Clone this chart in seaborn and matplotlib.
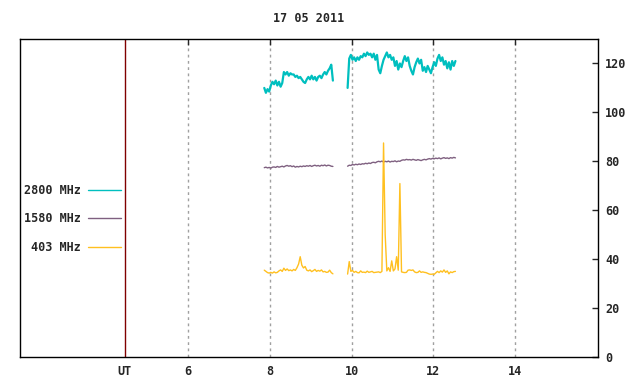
import numpy as np
import pandas as pd
import matplotlib
matplotlib.use("Agg")
import matplotlib.pyplot as plt
from matplotlib.lines import Line2D
import seaborn as sns

# ---------------------------
# Data (flux per band, sampled every 0.04 h UT, two observing runs)
# ---------------------------
title = "17 05 2011"
bands = ["2800 MHz", "1580 MHz", "403 MHz"]
colors = {"2800 MHz": "#00BFBF", "1580 MHz": "#7F6080", "403 MHz": "#FFC020"}

step = 0.04
seg_starts = [7.86, 9.90]

f2800_a = [110, 108, 109.5, 108.5, 111, 112.5, 111.5, 113, 111, 112.5, 110.5, 112,
           116.5, 115.5, 116.5, 115, 116, 115.5, 115.5, 114.5, 115, 114, 114.5, 113.5,
           112.5, 112, 113.5, 114.5, 113.5, 115, 113.5, 114.5, 113, 114.5, 115, 114,
           115.5, 116.5, 115.5, 117, 118, 119.5, 113]
f2800_b = [110, 122, 123.5, 121.5, 122.5, 121, 122.5, 121.5, 123, 122.5, 124, 123,
           124.5, 123.5, 124, 122.5, 124, 121.5, 123.5, 117.5, 116, 119, 121.5, 123,
           124.5, 122.5, 123.5, 121.5, 122.5, 119, 121, 117.5, 120, 118.5, 121, 123,
           121, 122.5, 119, 117, 115.5, 118.5, 120.5, 122, 120, 121.5, 117, 118.5,
           116.5, 119, 117.5, 116, 118.5, 120.5, 119, 122, 123.5, 121, 122.5, 119.5,
           121, 118, 120.5, 117.5, 121, 119, 121]

f1580_a = [77.4, 77.6, 77.3, 77.5, 77.2, 77.6, 77.7, 77.5, 77.9, 77.6, 77.8, 78.0,
           77.7, 78.1, 78.3, 78.0, 78.2, 77.8, 78.1, 77.6, 77.9, 77.7, 78.0, 77.8,
           78.1, 77.9, 78.2, 78.0, 78.3, 77.9, 78.2, 78.4, 78.1, 78.3, 78.0, 78.4,
           78.2, 78.5, 78.1, 78.4, 78.3, 78.0, 77.9]
f1580_b = [78.0, 78.4, 78.3, 78.7, 78.5, 78.8, 78.6, 78.9, 78.7, 79.0, 78.9, 79.2,
           79.0, 79.3, 79.1, 79.5, 79.6, 79.4, 79.8, 80.0, 79.8, 80.1, 79.7, 80.0,
           79.8, 80.1, 79.7, 80.0, 79.9, 80.2, 79.8, 80.1, 80.0, 80.4, 80.6, 80.5,
           80.8, 80.6, 80.7, 80.5, 80.8, 80.6, 80.4, 80.7, 80.5, 80.3, 80.6, 80.8,
           80.6, 80.9, 81.1, 80.9, 81.2, 81.0, 81.3, 81.1, 81.4, 81.0, 81.3, 81.5,
           81.2, 81.4, 81.1, 81.5, 81.3, 81.6, 81.4]

f403_a = [35.5, 35.0, 34.5, 34.3, 34.6, 34.3, 34.8, 34.4, 34.6, 35.2, 35.6, 35.0,
          36.3, 35.4, 36.0, 35.3, 35.6, 35.2, 35.8, 35.4, 36.5, 38.0, 41.0, 37.5,
          36.4, 37.0, 35.5, 35.2, 35.6, 34.9, 35.3, 35.8, 35.0, 35.4, 35.1, 35.6,
          34.8, 35.0, 34.6, 34.7, 35.5, 34.5, 34.0]
f403_b = [33.9, 39.0, 35.0, 35.4, 34.6, 35.0, 34.5, 34.4, 35.2, 34.6, 34.7, 34.5,
          35.1, 34.6, 34.8, 35.0, 34.5, 34.6, 34.7, 34.8, 34.5, 35.0, 87.5, 50.0,
          35.2, 36.5, 35.0, 39.3, 35.2, 36.0, 41.0, 35.5, 70.9, 34.8, 34.6, 34.5,
          34.6, 35.5, 35.6, 35.4, 35.6, 34.8, 34.5, 34.6, 35.2, 34.6, 34.8, 34.6,
          34.5, 34.2, 33.9, 33.8, 33.9, 33.8, 34.4, 35.0, 34.5, 35.2, 34.7, 35.6,
          34.6, 35.2, 34.0, 34.8, 34.5, 34.9, 35.0]

series = {
    "2800 MHz": [f2800_a, f2800_b],
    "1580 MHz": [f1580_a, f1580_b],
    "403 MHz": [f403_a, f403_b],
}

xticks = [6, 8, 10, 12, 14]
ut_pos = 4.45
yticks = [0, 20, 40, 60, 80, 100, 120]

# ---------------------------
# Long-form table
# ---------------------------
rows = []
for band in bands:
    for k, vals in enumerate(series[band]):
        t = seg_starts[k] + step * np.arange(len(vals))
        for ti, v in zip(t, vals):
            rows.append((band, k, ti, v))
df = pd.DataFrame(rows, columns=["band", "seg", "ut", "flux"])

# ---------------------------
# Plot
# ---------------------------
sns.set_style("white")
plt.rcParams["font.family"] = ["DejaVu Sans Mono"]
plt.rcParams["font.weight"] = "bold"
fs = 8.5

fig = plt.figure(figsize=(6.4, 3.84), dpi=100)
ax = fig.add_axes([20 / 640, 27 / 384, 578 / 640, 318 / 384])

for x in xticks:
    ax.axvline(x, color="#A0A0A0", lw=1, ls=(0, (2, 2.5)), zorder=0)
ax.axvline(ut_pos, color="#800000", lw=1, zorder=1)

sns.lineplot(data=df, x="ut", y="flux", hue="band", hue_order=bands,
             units="seg", estimator=None, palette=colors, lw=1.0,
             legend=False, ax=ax, zorder=2)
# the 2800 MHz trace is a dense noisy band in the original
ax.get_lines()[len(xticks) + 1].set_linewidth(1.6)
ax.get_lines()[len(xticks) + 2].set_linewidth(1.6)

ax.set_xlim(1.88, 16.03)
ax.set_ylim(0, 130)
ax.set_xlabel("")
ax.set_ylabel("")

ax.set_xticks([ut_pos] + xticks)
ax.set_xticklabels(["UT"] + [str(x) for x in xticks], fontsize=fs, fontweight="bold")
ax.yaxis.tick_right()
ax.set_yticks(yticks)
ax.set_yticklabels([str(y) for y in yticks], fontsize=fs, fontweight="bold")
ax.tick_params(axis="x", direction="in", length=4, width=1, top=True, pad=6)
ax.tick_params(axis="y", direction="in", length=4, width=1, left=False, right=True, pad=5)
ax.xaxis.get_major_ticks()[0].tick1line.set_visible(False)
ax.xaxis.get_major_ticks()[0].tick2line.set_visible(False)

for s in ax.spines.values():
    s.set_visible(True)
    s.set_color("black")
    s.set_linewidth(1)

handles = [Line2D([0], [0], color=colors[b], lw=1) for b in bands]
ax.legend(handles, bands, loc="upper right", bbox_to_anchor=(121 / 640, 1 - 184 / 384),
          bbox_transform=fig.transFigure, markerfirst=False, frameon=False,
          prop={"size": fs, "weight": "bold"}, handlelength=2.8, handletextpad=0.6,
          labelspacing=1.3, borderpad=0, borderaxespad=0)

fig.text(309 / 640, 1 - 19 / 384, title, ha="center", va="center",
         fontsize=fs, fontweight="bold")

fig.savefig("out.png", dpi=100)
